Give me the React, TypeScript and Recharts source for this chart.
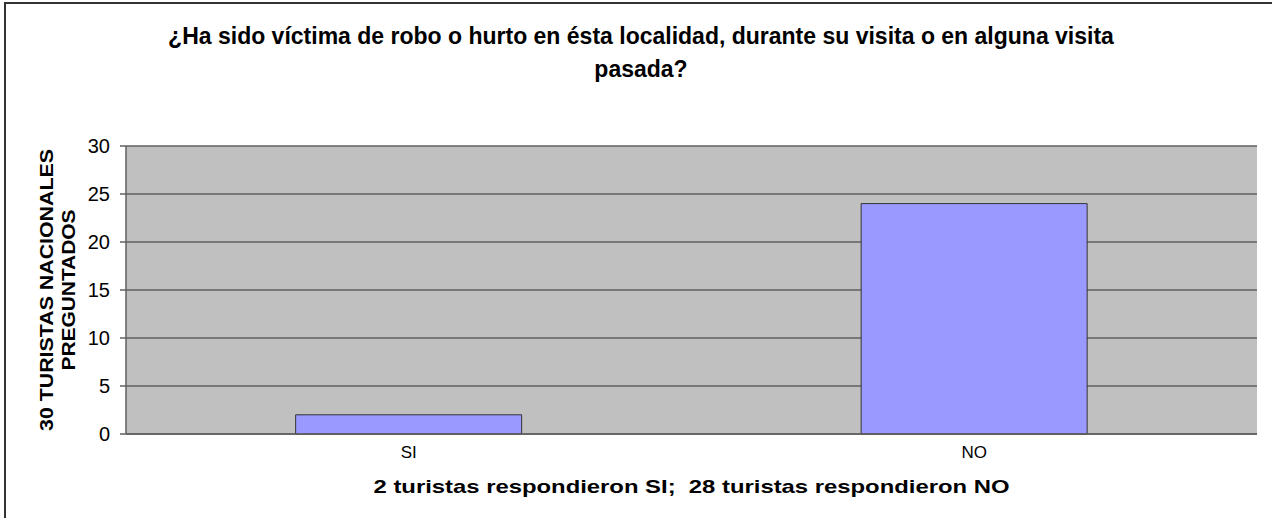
import React from 'react';
import { BarChart, Bar, XAxis, YAxis, CartesianGrid } from 'recharts';

// respuestas
const categories = ['SI', 'NO'];
const values = [2, 24];
const yTicks = [0, 5, 10, 15, 20, 25, 30];

const titleLines = [
  '¿Ha sido víctima de robo o hurto en ésta localidad, durante su visita o en alguna visita',
  'pasada?',
];
const xTitle = '2 turistas respondieron SI;  28 turistas respondieron NO';
const yTitleLines = ['30 TURISTAS NACIONALES', 'PREGUNTADOS'];

const data = categories.map((c, i) => ({ name: c, value: values[i] }));

const FONT = 'Liberation Sans, Arial, sans-serif';

const YTitle = ({ viewBox }: any) => {
  const cy = viewBox.y + viewBox.height / 2;
  const xs = [46, 68];
  const lens = [282, 161];
  return (
    <g>
      {yTitleLines.map((t, i) => {
        const cx = xs[i];
        return (
          <text
            key={t}
            x={cx}
            y={cy}
            transform={`rotate(-90, ${cx}, ${cy})`}
            textAnchor="middle"
            dominantBaseline="central"
            fontFamily={FONT}
            fontWeight="bold"
            fontSize={19}
            textLength={lens[i]}
            lengthAdjust="spacingAndGlyphs"
            fill="#000"
          >
            {t}
          </text>
        );
      })}
    </g>
  );
};

const XTitle = ({ viewBox }: any) => {
  const cx = viewBox.x + viewBox.width / 2;
  return (
    <text
      x={cx}
      y={486}
      textAnchor="middle"
      dominantBaseline="central"
      fontFamily={FONT}
      fontWeight="bold"
      fontSize={19}
      textLength={636}
      lengthAdjust="spacingAndGlyphs"
      fill="#000"
      style={{ whiteSpace: 'pre' }}
    >
      {xTitle}
    </text>
  );
};

export default function App() {
  return (
    <div style={{ position: 'absolute', left: 0, top: 0, width: 1272, height: 518, background: '#fff', fontFamily: FONT }}>
      <div style={{ position: 'absolute', left: 4, top: 2, width: 1268, height: 516, borderLeft: '2px solid #333', borderTop: '2px solid #333' }} />
      <div style={{ position: 'absolute', left: 0, top: 20, width: 1282, textAlign: 'center', fontWeight: 'bold', fontSize: 23, lineHeight: '33px', color: '#000' }}>
        {titleLines.map((t) => (
          <div key={t}>{t}</div>
        ))}
      </div>
      <BarChart
        width={1272}
        height={518}
        data={data}
        margin={{ top: 146, right: 15, bottom: 0, left: 0 }}
        barCategoryGap="30%"
        style={{ position: 'absolute', left: 0, top: 0 }}
      >
        <CartesianGrid fill="#C0C0C0" vertical={false} stroke="#606060" strokeWidth={1.5} strokeOpacity={1} />
        <XAxis
          dataKey="name"
          height={84}
          axisLine={{ stroke: '#606060', strokeWidth: 1.5 }}
          tickLine={false}
          tick={{ fill: '#000', fontSize: 17, fontFamily: FONT }}
          tickMargin={6}
          label={<XTitle />}
        />
        <YAxis
          width={126}
          domain={[0, 30]}
          ticks={yTicks}
          interval={0}
          axisLine={{ stroke: '#606060', strokeWidth: 1.5 }}
          tickLine={{ stroke: '#606060', strokeWidth: 1.5 }}
          tickSize={6}
          tickMargin={10}
          tick={{ fill: '#000', fontSize: 20, fontFamily: FONT }}
          label={<YTitle />}
        />
        <YAxis
          yAxisId="r"
          orientation="right"
          width={0}
          domain={[0, 30]}
          tick={false}
          tickLine={false}
          axisLine={{ stroke: '#8a8a8a', strokeWidth: 1.5 }}
        />
        <Bar dataKey="value" fill="#9999FF" stroke="#333" strokeWidth={1} isAnimationActive={false} />
      </BarChart>
    </div>
  );
}
